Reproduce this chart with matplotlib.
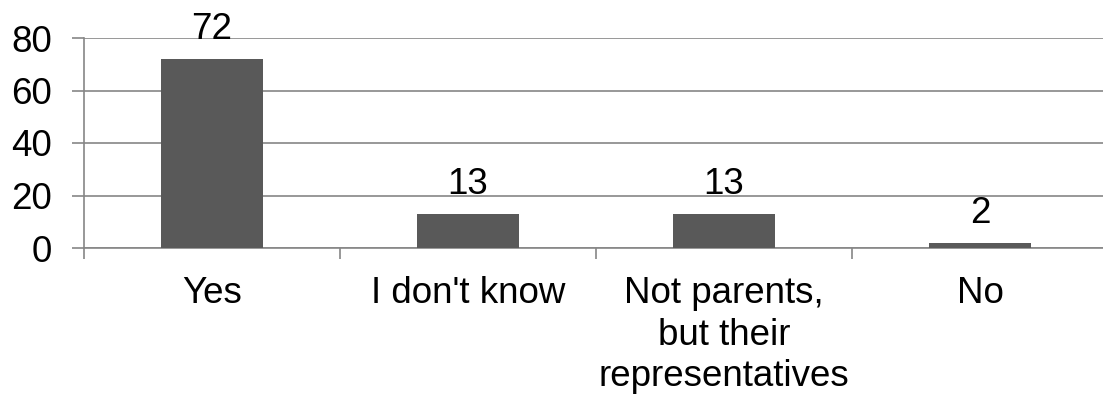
import matplotlib.pyplot as plt
import numpy as np

categories = ["Yes", "I don't know", "Not parents,\nbut their\nrepresentatives", "No"]
values = [72, 13, 13, 2]
yticks = [0, 20, 40, 60, 80]

plt.rcParams['font.family'] = ['Liberation Sans', 'DejaVu Sans']

W, H = 1103, 398
fig = plt.figure(figsize=(W / 100, H / 100), dpi=100)
# plot area in pixel coords: left 84, right 1108, top 38, bottom 248
ax = fig.add_axes([84 / W, 1 - 248 / H, (1108 - 84) / W, (248 - 38) / H])

grid_col = '#868686'
bar_col = '#595959'
fs = 26.5

x = np.arange(len(categories))
bars = ax.bar(x, values, width=0.4, color=bar_col, zorder=3)

for xi, v in zip(x, values):
    ax.annotate(str(v), (xi, v), xytext=(0, 14.4), textcoords='offset points',
                ha='center', va='baseline', fontsize=fs, color='black')

ax.set_xlim(-0.5, len(categories) - 0.5)
ax.set_ylim(0, 80)
ax.set_yticks(yticks)
ax.yaxis.grid(True, color=grid_col, linewidth=1.2, zorder=0)
ax.set_axisbelow(True)

ax.set_xticks(np.arange(len(categories) + 1) - 0.5, minor=False)
ax.set_xticklabels([])
ax.set_xticks(x, minor=True)
ax.set_xticklabels(categories, minor=True, fontsize=fs, linespacing=1.25)
ax.tick_params(axis='x', which='major', length=8, width=1.2, color=grid_col, direction='out')
ax.tick_params(axis='x', which='minor', length=0, pad=20)
ax.tick_params(axis='y', length=9, width=1.2, color=grid_col, labelsize=fs, pad=14)

for s in ['top', 'right']:
    ax.spines[s].set_visible(False)
for s in ['left', 'bottom']:
    ax.spines[s].set_color(grid_col)
    ax.spines[s].set_linewidth(1.2)

fig.savefig('out.png', dpi=100)
